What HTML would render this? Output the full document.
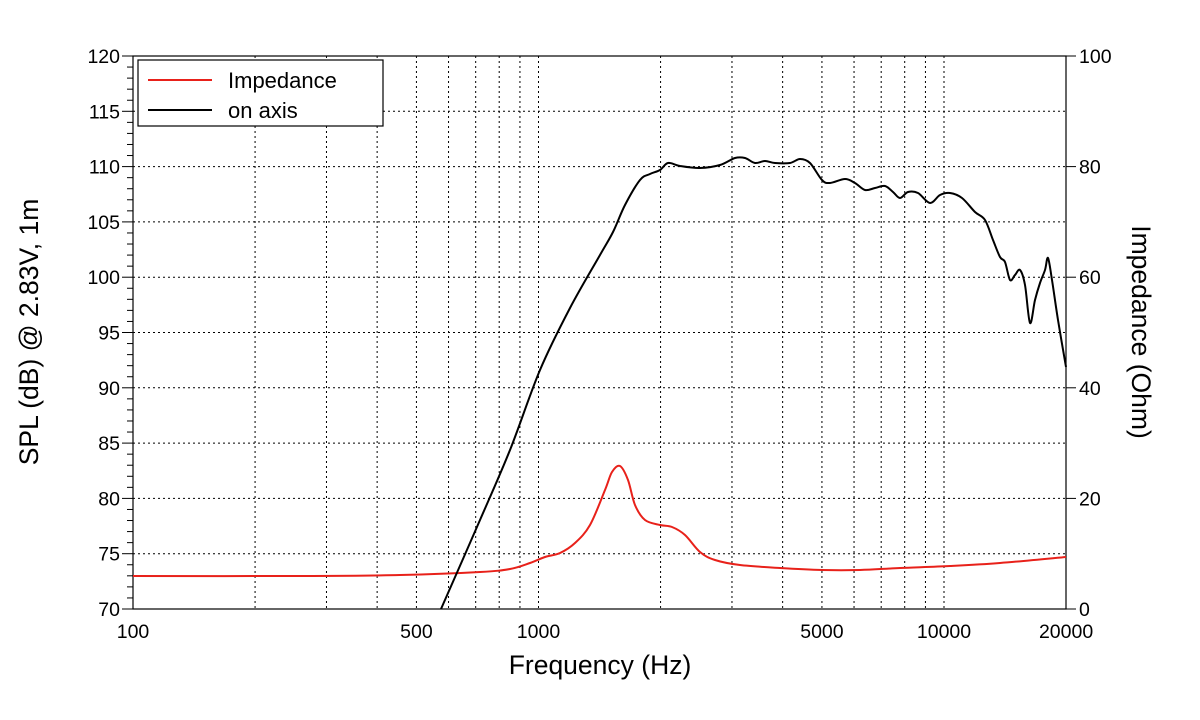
<!DOCTYPE html>
<html><head><meta charset="utf-8"><style>
body{margin:0;background:#fff}
svg{display:block;font-family:"Liberation Sans",Arial,sans-serif}
</style></head><body>
<svg id="s" width="1200" height="720" xmlns="http://www.w3.org/2000/svg">
<g id="grid" stroke="#000" stroke-width="1" stroke-dasharray="2,3"></g>
<g id="ticks" stroke="#000" stroke-width="1"></g>
<rect x="133" y="56" width="933" height="553" fill="none" stroke="#000" stroke-width="1.2"/>
<g id="labels" font-size="19.5" fill="#000"></g>
<path id="red" fill="none" stroke="#e8211a" stroke-width="2"/>
<path id="blk" fill="none" stroke="#000" stroke-width="2"/>
<rect x="138" y="60" width="245" height="66" fill="#fff" stroke="#000" stroke-width="1.2"/>
<line x1="148" y1="80" x2="212" y2="80" stroke="#e8211a" stroke-width="2"/>
<line x1="148" y1="110" x2="212" y2="110" stroke="#000" stroke-width="2"/>
<text x="228" y="88" font-size="22">Impedance</text>
<text x="228" y="118" font-size="22">on axis</text>
<text x="600" y="674" font-size="26.5" text-anchor="middle">Frequency (Hz)</text>
<text transform="translate(38,332) rotate(-90)" font-size="26.5" text-anchor="middle">SPL (dB) @ 2.83V, 1m</text>
<text transform="translate(1132,332) rotate(90)" font-size="26.5" text-anchor="middle">Impedance (Ohm)</text>
</svg>
<script>
var NS="http://www.w3.org/2000/svg";
function el(p,t,a,txt){var e=document.createElementNS(NS,t);for(var k in a)e.setAttribute(k,a[k]);if(txt!=null)e.textContent=txt;document.getElementById(p).appendChild(e);}
function X(f){return 133+405.5*(Math.log10(f)-2);}
var fs=[200,300,400,500,600,700,800,900,1000,2000,3000,4000,5000,6000,7000,8000,9000,10000];
fs.forEach(function(f){el("grid","line",{x1:X(f),x2:X(f),y1:56,y2:609});});
for(var v=75;v<120;v+=5){var y=609-(v-70)*11.06;el("grid","line",{x1:133,x2:1066,y1:y,y2:y});}
for(var v=70;v<=120;v++){var y=609-(v-70)*11.06;var maj=v%5==0;
 el("ticks","line",{x1:maj?122:127,x2:133,y1:y,y2:y});
 if(maj)el("labels","text",{x:120,y:y+7,"text-anchor":"end"},v);}
for(var v=0;v<=100;v+=20){var y=609-v*5.53;el("ticks","line",{x1:1066,x2:1076,y1:y,y2:y});el("labels","text",{x:1079,y:y+7},v);}
[[100,"100"],[500,"500"],[1000,"1000"],[5000,"5000"],[10000,"10000"],[20000,"20000"]].forEach(function(a){el("labels","text",{x:X(a[0]),y:638,"text-anchor":"middle"},a[1]);});
function cr(p){var d="M"+p[0][0]+","+p[0][1];for(var i=0;i<p.length-1;i++){var p0=p[i-1]||p[i],p1=p[i],p2=p[i+1],p3=p[i+2]||p2;
 d+=" C"+(p1[0]+(p2[0]-p0[0])/6)+","+(p1[1]+(p2[1]-p0[1])/6)+" "+(p2[0]-(p3[0]-p1[0])/6)+","+(p2[1]-(p3[1]-p1[1])/6)+" "+p2[0]+","+p2[1];}return d;}
var B=[[441,609],[480,520],[510,450],[540,370],[570,308],[600,255],[613,232],[625,205],[640,180],[650,174],[660,170],[668,163],[680,166],[700,168],[720,165],[735,158],[745,158],[755,163],[765,161],[775,163],[790,163],[800,159],[810,163],[822,180],[830,183],[845,179],[855,183],[865,190],[875,188],[885,186],[893,192],[900,198],[908,192],[918,193],[930,203],[940,195],[950,193],[962,198],[975,212],[985,220],[993,240],[1000,257],[1005,262],[1010,280],[1015,275],[1020,270],[1025,285],[1030,323],[1035,300],[1040,283],[1045,270],[1048,258],[1052,280],[1058,320],[1066,367]];
var R=[[133,576],[300,576],[400,575],[480,572],[510,569],[530,563],[545,557],[560,553],[575,543],[590,525],[605,490],[612,472],[620,466],[628,480],[635,505],[645,520],[660,525],[672,527],[685,535],[700,552],[715,560],[740,565],[780,568],[822,570],[860,570],[900,568],[950,566],[1000,563],[1066,557]];
document.getElementById("blk").setAttribute("d",cr(B));
document.getElementById("red").setAttribute("d",cr(R));
</script>
</body></html>
